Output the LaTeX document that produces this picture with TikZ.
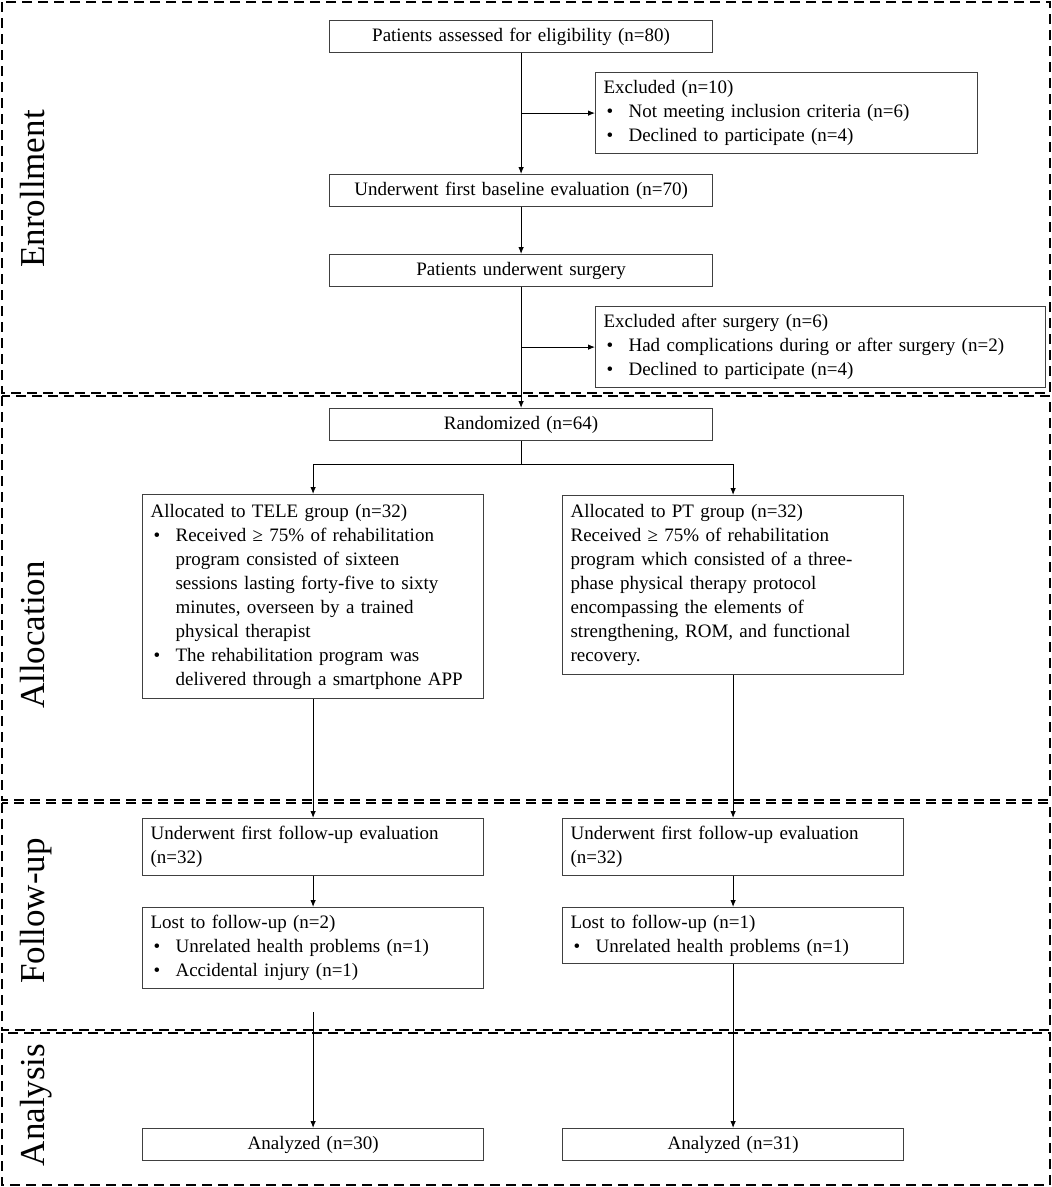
\documentclass[tikz,border=0pt]{standalone}
\usepackage{fontspec}
\setmainfont{Liberation Serif}
\usetikzlibrary{arrows.meta}
\newcommand{\bitem}[1]{\mbox{\makebox[25pt][l]{\hspace{3pt}\textbullet}#1}}
\newcommand{\bcont}[1]{\mbox{\hspace*{25pt}#1}}
\definecolor{boxgray}{HTML}{404040}
\begin{document}
\begin{tikzpicture}[x=1pt,y=-1pt,
  box/.style={draw=boxgray, line width=1.2pt, inner xsep=8pt, inner ysep=0pt,
    anchor=north west, font=\fontsize{19}{24}\selectfont},
  cbox/.style={box, align=center, minimum width=383pt, minimum height=32pt, text width=367pt},
  lbox/.style={box, align=left},
  arr/.style={-{Latex[length=7pt,width=5.5pt]}, line width=0.9pt, draw=black},
  ln/.style={line width=0.9pt, draw=black},
  sec/.style={draw=black, line width=2.6pt, dash pattern=on 10pt off 6pt},
  lab/.style={rotate=90, anchor=mid, font=\fontsize{35}{40}\selectfont}]
\useasboundingbox (0,0) rectangle (1052,1187);
\begin{scope}
\clip (0,0) rectangle (1052,1187);
% sections
\draw[sec] (2,2) rectangle (1050,393);
\draw[sec] (2,396) rectangle (1050,800);
\draw[sec] (2,803) rectangle (1050,1030);
\draw[sec] (2,1033) rectangle (1050,1185);
\end{scope}
\node[lab] (lenr) at (42,189) {Enrollment};
\node[lab] (lall) at (42,635) {Allocation};
\node[lab] (lfu) at (42,911) {Follow-up};
\node[lab] (lan) at (42,1105) {Analysis};

% enrollment
\node[cbox] (n1) at (329,20) {\rule[-3pt]{0pt}{17pt}Patients assessed for eligibility (n=80)};
\node[lbox, minimum width=382pt, minimum height=81pt, text width=366pt] (ex1) at (595,72)
  {Excluded (n=10)\\\bitem{Not meeting inclusion criteria (n=6)}\\\bitem{Declined to participate (n=4)}};
\node[cbox] (n2) at (329,174) {\rule[-3pt]{0pt}{17pt}Underwent first baseline evaluation (n=70)};
\node[cbox] (n3) at (329,254) {\rule[-3pt]{0pt}{17pt}Patients underwent surgery};
\node[lbox, minimum width=450pt, minimum height=81pt, text width=434pt] (ex2) at (595,306)
  {Excluded after surgery (n=6)\\\bitem{Had complications during or after surgery (n=2)}\\\bitem{Declined to participate (n=4)}};
\node[cbox] (rand) at (329,408) {\rule[-3pt]{0pt}{17pt}Randomized (n=64)};

% allocation
\node[lbox, minimum width=341pt, minimum height=204pt, text width=325pt] (tele) at (142,494)
  {Allocated to TELE group (n=32)\\
   \bitem{Received ≥ 75\% of rehabilitation}\\
   \bcont{program consisted of sixteen}\\
   \bcont{sessions lasting forty-five to sixty}\\
   \bcont{minutes, overseen by a trained}\\
   \bcont{physical therapist}\\
   \bitem{The rehabilitation program was}\\
   \bcont{delivered through a smartphone APP}};
\node[lbox, minimum width=341pt, minimum height=179pt, text width=325pt] (pt) at (562,495)
  {Allocated to PT group (n=32)\\
   Received ≥ 75\% of rehabilitation\\
   program which consisted of a three-\\
   phase physical therapy protocol\\
   encompassing the elements of\\
   strengthening, ROM, and functional\\
   recovery.};

% follow-up
\node[lbox, minimum width=341pt, minimum height=57pt, text width=325pt] (fu1) at (142,818)
  {Underwent first follow-up evaluation\\(n=32)};
\node[lbox, minimum width=341pt, minimum height=57pt, text width=325pt] (fu2) at (562,818)
  {Underwent first follow-up evaluation\\(n=32)};
\node[lbox, minimum width=341pt, minimum height=81pt, text width=325pt] (lost1) at (142,907)
  {Lost to follow-up (n=2)\\\bitem{Unrelated health problems (n=1)}\\\bitem{Accidental injury (n=1)}};
\node[lbox, minimum width=341pt, minimum height=56pt, text width=325pt] (lost2) at (562,907)
  {Lost to follow-up (n=1)\\\bitem{Unrelated health problems (n=1)}};

% analysis
\node[cbox, minimum width=341pt, text width=325pt] (an1) at (142,1128) {\rule[-3pt]{0pt}{17pt}Analyzed (n=30)};
\node[cbox, minimum width=341pt, text width=325pt] (an2) at (562,1128) {\rule[-3pt]{0pt}{17pt}Analyzed (n=31)};

% connectors
\draw[arr] (n1.south) -- (n2.north);
\draw[arr] (n1.south |- ex1.west) -- (ex1.west);
\draw[arr] (n2.south) -- (n3.north);
\draw[arr] (n3.south) -- (rand.north);
\draw[arr] (n3.south |- ex2.west) -- (ex2.west);
\coordinate (split) at (rand.south |- 0,464);
\draw[ln] (rand.south) -- (split);
\draw[arr] (split) -| (tele.north);
\draw[arr] (split) -| (pt.north);
\draw[arr] (tele.south) -- (fu1.north);
\draw[arr] (pt.south) -- (fu2.north);
\draw[arr] (fu1.south) -- (lost1.north);
\draw[arr] (fu2.south) -- (lost2.north);
\coordinate (gap1) at (lost1.south |- 0,1012);
\draw[arr] (gap1) -- (an1.north);
\draw[arr] (lost2.south) -- (an2.north);
\end{tikzpicture}
\end{document}
